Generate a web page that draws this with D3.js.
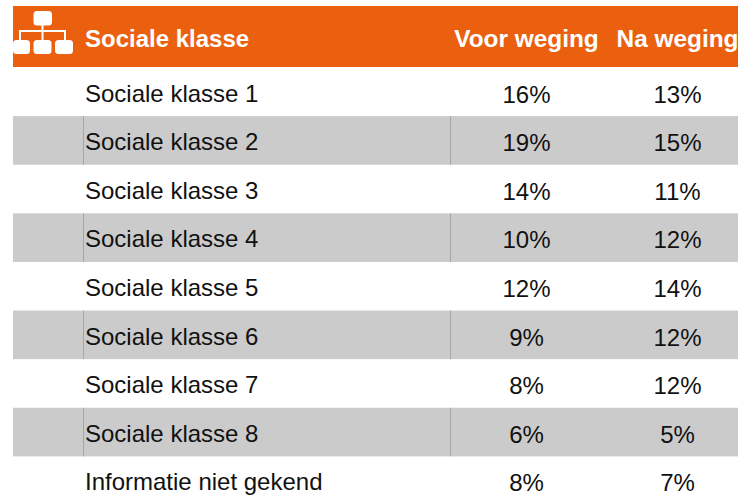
<!DOCTYPE html>
<html><head><meta charset="utf-8">
<script src="https://cdn.jsdelivr.net/npm/d3@7/dist/d3.min.js"></script>
<style>html,body{margin:0;padding:0;background:#fff;overflow:hidden}svg{display:block}text{font-family:"Liberation Sans",Arial,sans-serif}</style>
</head><body><div id="c"></div>
<script>
const headers = ["Sociale klasse", "Voor weging", "Na weging"];
const categories = ["Sociale klasse 1","Sociale klasse 2","Sociale klasse 3","Sociale klasse 4","Sociale klasse 5","Sociale klasse 6","Sociale klasse 7","Sociale klasse 8","Informatie niet gekend"];
const voorWeging = [16,19,14,10,12,9,8,6,8];
const naWeging = [13,15,11,12,14,12,12,5,7];

const W = 738, H = 495;
const svg = d3.select("#c").append("svg").attr("width", W).attr("height", H);
const y = d3.scaleBand().domain(d3.range(categories.length)).range([67.5, 505]);
const fmt = v => v + "%";

svg.append("rect").attr("x", 13).attr("y", 6).attr("width", W - 13).attr("height", 61).attr("fill", "#EB600F");

// icon
const icon = svg.append("g");
const boxes = [[33.5,11,18.5,14.5],[13,40,17,14],[33.5,40,18,14],[55,40,18,14]];
icon.selectAll("rect").data(boxes).join("rect")
  .attr("x", d => d[0]).attr("y", d => d[1]).attr("width", d => d[2]).attr("height", d => d[3])
  .attr("rx", 3.5).attr("fill", "#fff");
icon.append("path").attr("d", "M42.5 25V41M20 41V31H65V41").attr("fill", "none").attr("stroke", "#fff").attr("stroke-width", 2);

const hdr = [[85,"start",24],[526.5,"middle",24.4],[677.5,"middle",24.4]];
svg.selectAll("text.h").data(headers).join("text").attr("class","h")
  .attr("x", (d,i) => hdr[i][0]).attr("y", 47).attr("text-anchor", (d,i) => hdr[i][1])
  .attr("font-size", (d,i) => hdr[i][2]).attr("font-weight", "bold").attr("fill", "#fff").text(d => d);

const rows = svg.selectAll("g.r").data(categories).join("g").attr("class","r")
  .attr("transform", (d,i) => `translate(0,${y(i)})`);
rows.filter((d,i) => i % 2 === 1).each(function(){
  const g = d3.select(this);
  g.append("rect").attr("x",13).attr("y",0).attr("width",W-13).attr("height",y.bandwidth()).attr("fill","#CBCBCB");
  [83.5,450.5].forEach(x => g.append("line").attr("x1",x).attr("x2",x).attr("y1",0).attr("y2",y.bandwidth()).attr("stroke","#A6A6A6").attr("stroke-width",1));
});
rows.append("text").attr("x",85).attr("y",34).attr("font-size",24).attr("fill","#111").text(d => d);
rows.append("text").attr("x",526.5).attr("y",35).attr("text-anchor","middle").attr("font-size",24).attr("fill","#111").text((d,i) => fmt(voorWeging[i]));
rows.append("text").attr("x",677.5).attr("y",35).attr("text-anchor","middle").attr("font-size",24).attr("fill","#111").text((d,i) => fmt(naWeging[i]));
</script></body></html>
